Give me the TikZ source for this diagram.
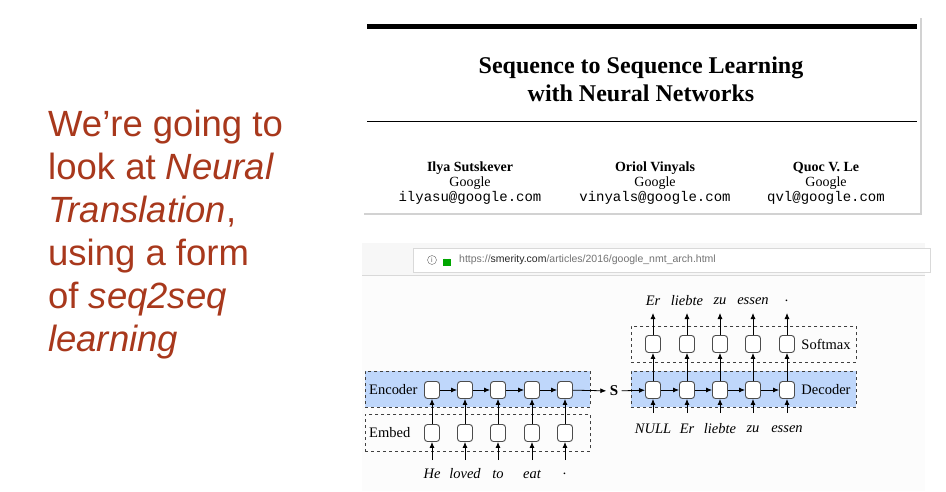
\documentclass[tikz,border=0pt]{standalone}
\usepackage{fontspec}
\setmainfont{Liberation Serif}
\newfontfamily\osans{Liberation Sans}
\newfontfamily\lsans{Liberation Sans}
\newfontfamily\lmono{Liberation Mono}
\usetikzlibrary{arrows.meta,shadows}
\definecolor{rust}{HTML}{A8381C}
\definecolor{encblue}{HTML}{BFD7FB}
\tikzset{
 cell/.style={draw=black!70,fill=white,rounded corners=3pt,minimum width=15pt,minimum height=17pt,line width=0.9pt,inner sep=0pt},
 grp/.style={draw=black!75,dashed,line width=0.8pt},
 arr/.style={-{Latex[length=6pt,width=5pt]},line width=0.8pt},
 dlab/.style={font=\fontsize{14.5}{16}\selectfont},
 wlab/.style={font=\fontsize{14.5}{16}\selectfont\itshape},
 lefttxt/.style={font=\osans\fontsize{36.5}{43}\selectfont,text=rust,align=left,anchor=north west,inner sep=0pt}
}
\begin{document}
\begin{tikzpicture}[x=1pt,y=-1pt]
\useasboundingbox (0,0) rectangle (946,491);
\fill[white] (0,0) rectangle (946,491);
% left text
\node[lefttxt] (lt) at (48,110) {We’re going to\\look at \textit{Neural}\\\textit{Translation},\\using a form\\of \textit{seq2seq}\\\textit{learning}};
% paper
\node[fill=white,drop shadow={opacity=0.35,shadow xshift=2pt,shadow yshift=-2pt},minimum width=558pt,minimum height=197pt,inner sep=0pt,anchor=north west] (paper) at (362,16) {};
\fill[black] (367,24) rectangle (917,29);
\draw[line width=1pt] (367,121) -- (917,121);
\node[font=\bfseries\fontsize{24}{28}\selectfont,align=center] (title) at (641,79) {Sequence to Sequence Learning\\with Neural Networks};
\foreach \n/\x/\nm/\em in {a1/470/Ilya Sutskever/ilyasu@google.com, a2/655/Oriol Vinyals/vinyals@google.com, a3/826/Quoc V. Le/qvl@google.com}{
 \node[font=\bfseries\fontsize{14}{16}\selectfont] (\n n) at (\x,168) {\nm};
 \node[font=\fontsize{14}{16}\selectfont] (\n g) at (\x,183) {Google};
 \node[font=\lmono\fontsize{14}{16}\selectfont] (\n e) at (\x,198) {\em};
}
% screenshot
\fill[black!3] (362,243) rectangle (925,491);
\fill[black!1] (362,275) rectangle (925,491);
\draw[black!15,fill=white] (413,248) rectangle (930,272);
\draw[black!15] (362,275) -- (925,275);
\node[draw=black!60,circle,inner sep=0pt,minimum size=9pt,font=\lsans\fontsize{7}{7}\selectfont,text=black!60] (info) at (432,260) {i};
\fill[green!65!black] (443,259) rectangle (451,266);
\draw[green!65!black,line width=1.3pt] (444.5,259) arc (180:0:2.5 and 3.5);
\node[anchor=west,font=\lsans\fontsize{10.5}{12}\selectfont,text=black!55,inner sep=0pt] (url) at (459,260) {https://\textcolor{black!85}{smerity.com}/articles/2016/google\_nmt\_arch.html};
% diagram boxes
\node[grp,fill=encblue,minimum width=225pt,minimum height=36pt,anchor=north west,inner sep=0pt] (encbox) at (365,371) {};
\node[grp,minimum width=225pt,minimum height=37pt,anchor=north west,inner sep=0pt] (embbox) at (365,414) {};
\node[grp,fill=encblue,minimum width=225pt,minimum height=36pt,anchor=north west,inner sep=0pt] (decbox) at (631,371) {};
\node[grp,minimum width=225pt,minimum height=36pt,anchor=north west,inner sep=0pt] (smbox) at (631,326) {};
\node[dlab,anchor=west,inner sep=0pt] (enclab) at (369,390) {Encoder};
\node[dlab,anchor=west,inner sep=0pt] (emblab) at (369,433) {Embed};
\node[dlab] (declab) at (826,390) {Decoder};
\node[dlab] (smlab) at (826,344) {Softmax};
\node[font=\bfseries\fontsize{15}{18}\selectfont] (S) at (614,391) {S};
% encoder
\foreach \i/\x/\w in {1/432/He,2/465/loved,3/498/to,4/532/eat,5/565/.}{
 \node[cell] (e\i) at (\x,390) {};
 \node[cell] (m\i) at (\x,433) {};
 \node[wlab] (w\i) at (\x,474) {\w};
 \coordinate (wi\i) at (\x,460);
 \draw[arr] (wi\i) -- (m\i);
 \draw[arr] (m\i) -- (e\i);
}
\foreach \i/\j in {1/2,2/3,3/4,4/5}{\draw[arr] (e\i) -- (e\j);}
\draw[arr] (e5) -- (S);
% decoder
\foreach \i/\x/\w/\o in {1/653/NULL/Er,2/687/Er/liebte,3/720/liebte/zu,4/753/zu/essen,5/787/essen/.}{
 \node[cell] (d\i) at (\x,390) {};
 \node[cell] (s\i) at (\x,344) {};
 \node[wlab] (in\i) at (\x,429) {\w};
 \node[wlab] (out\i) at (\x,301) {\o};
 \coordinate (di\i) at (\x,413);
 \coordinate (so\i) at (\x,313);
 \draw[arr] (di\i) -- (d\i);
 \draw[arr] (d\i) -- (s\i);
 \draw[arr] (s\i) -- (so\i);
}
\foreach \i/\j in {1/2,2/3,3/4,4/5}{\draw[arr] (d\i) -- (d\j);}
\draw[arr] (S) -- (d1);
\end{tikzpicture}
\end{document}
